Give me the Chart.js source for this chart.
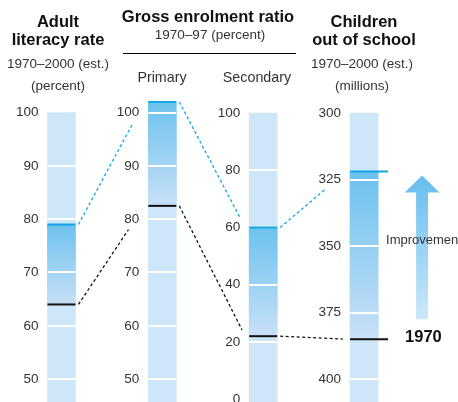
<!DOCTYPE html>
<html>
<head>
<meta charset="utf-8">
<script src="https://cdn.jsdelivr.net/npm/chart.js@4.4.1/dist/chart.umd.min.js"></script>
<style>
  html, body { margin: 0; padding: 0; background: #fff; }
  #wrap { position: relative; width: 458px; height: 402px; overflow: hidden; font-family: "Liberation Sans", Arial, sans-serif; }
  #wrap canvas { position: absolute; left: 0; top: 0; }
  .h, .h1, .s, .s1, .p { position: absolute; text-align: center; white-space: nowrap; }
  .h, .h1 { font-weight: bold; font-size: 16.5px; line-height: 18px; color: #111; }
  .s { font-size: 13.5px; line-height: 22px; color: #333; }
  .s1 { font-size: 13.5px; line-height: 16px; color: #333; }
  .p { font-size: 14.3px; line-height: 16px; color: #333; }
  .rule { position: absolute; height: 1px; background: #000; }
</style>
</head>
<body>
<div id="wrap">
  <canvas id="chart" width="458" height="402"></canvas>
  <div class="h" style="left:0;width:116px;top:12px">Adult<br>literacy rate</div>
  <div class="s" style="left:0;width:116px;top:53px">1970–2000 (est.)<br>(percent)</div>
  <div class="h1" style="left:108px;width:200px;top:7px">Gross enrolment ratio</div>
  <div class="s1" style="left:110px;width:200px;top:27px">1970–97 (percent)</div>
  <div class="rule" style="left:123px;width:173px;top:53px"></div>
  <div class="p" style="left:122px;width:80px;top:69px">Primary</div>
  <div class="p" style="left:217px;width:80px;top:69px">Secondary</div>
  <div class="h" style="left:306px;width:116px;top:12px">Children<br>out of school</div>
  <div class="s" style="left:304px;width:116px;top:53px">1970–2000 (est.)<br>(millions)</div>
</div>
<script>
// columns and their values (1970 start, latest estimate)
const columns = ["Adult literacy rate", "Primary", "Secondary", "Children out of school"];
const value1970 = [64, 82.5, 22, 385];
const valueLatest = [79, 102, 60, 322];
const columnTop = [100, 100, 100, 300];

// axis ranges, one per column
const axisMin = [45.7, 45.7, -1, 293.2];
const axisMax = [103.3, 103.3, 106.3, 408.6];
const tickStep = [10, 10, 20, 25];
const reversed = [false, false, false, true];

const baseYearLabel = "1970";
const arrowLabel = "Improvement";

const FONT = '"Liberation Sans", Arial, sans-serif';
const PALE = "#cde7f8";
const BLUE = "#14a6e4";
const labelOffset = -0.228;

const datasets = [];
columns.forEach((name, i) => {
    const only = v => columns.map((_, j) => (j === i ? v : null));
    const yId = "y" + i;
    const bottom = reversed[i] ? axisMax[i] : axisMin[i];
    datasets.push({
        label: name + " scale",
        data: only([bottom, columnTop[i]]),
        yAxisID: yId,
        backgroundColor: PALE,
        order: 2,
    });
    datasets.push({
        label: name,
        data: only([value1970[i], valueLatest[i]]),
        yAxisID: yId,
        order: 1,
        backgroundColor: ctx => {
            const chart = ctx.chart;
            const s = chart.scales[yId];
            if (!chart.chartArea || !s) return "#9fd3f2";
            const g = chart.ctx.createLinearGradient(0, s.getPixelForValue(valueLatest[i]), 0, s.getPixelForValue(value1970[i]));
            g.addColorStop(0, "#6cc2ee");
            g.addColorStop(1, "#c8e0f7");
            return g;
        },
    });
});

const scales = { x: { display: false } };
columns.forEach((_, i) => {
    scales["y" + i] = {
        type: "linear",
        axis: "y",
        position: { x: i + labelOffset },
        min: axisMin[i],
        max: axisMax[i],
        reverse: reversed[i],
        grid: { display: false },
        border: { display: false },
        ticks: {
            stepSize: tickStep[i],
            includeBounds: false,
            color: "#333",
            padding: 0,
            font: { family: FONT, size: 13.5 },
        },
        afterFit(s) {
            s.paddingTop = 0;
            s.paddingBottom = 0;
        },
    };
});

function labelBoxes(chart, k) {
    const s = chart.scales["y" + k];
    const right = chart.scales.x.getPixelForValue(k + labelOffset);
    const ctx = chart.ctx;
    ctx.font = "13.5px " + FONT;
    return s.ticks.map(t => {
        const y = s.getPixelForValue(t.value);
        const w = ctx.measureText(String(t.label)).width;
        return { l: right - w, r: right + 2, t: y - 10, b: y + 10 };
    });
}

const marks = {
    id: "marks",
    afterDatasetsDraw(chart) {
        const ctx = chart.ctx;
        const area = chart.chartArea;
        const ys = columns.map((_, i) => chart.scales["y" + i]);
        const bars = columns.map((_, i) => {
            const el = chart.getDatasetMeta(2 * i).data[i];
            return { left: el.x - el.width / 2, right: el.x + el.width / 2 };
        });
        ctx.save();

        // white grid lines across each column
        ctx.strokeStyle = "#fff";
        ctx.lineWidth = 2;
        ys.forEach((s, i) => {
            const top = Math.min(s.getPixelForValue(columnTop[i]), s.getPixelForValue(valueLatest[i]));
            s.ticks.forEach(t => {
                const y = Math.round(s.getPixelForValue(t.value));
                if (y <= top + 2 || y >= area.bottom - 4) return;
                ctx.beginPath();
                ctx.moveTo(bars[i].left, y);
                ctx.lineTo(bars[i].right, y);
                ctx.stroke();
            });
        });

        // dashed connectors between columns
        const connect = (vals, color) => {
            ctx.strokeStyle = color;
            ctx.lineWidth = 1.3;
            ctx.setLineDash([3, 2.5]);
            for (let i = 0; i < columns.length - 1; i++) {
                const x0 = bars[i].right + 3, y0 = ys[i].getPixelForValue(vals[i]);
                const x1 = bars[i + 1].left - 4, y1 = ys[i + 1].getPixelForValue(vals[i + 1]);
                const boxes = labelBoxes(chart, i + 1);
                let xe = x0, ye = y0;
                for (let t = 0; t <= 1; t += 0.004) {
                    const x = x0 + (x1 - x0) * t, y = y0 + (y1 - y0) * t;
                    if (x > bars[i + 1].left - 7) break;
                    if (boxes.some(b => x >= b.l && x <= b.r && y >= b.t && y <= b.b)) break;
                    xe = x; ye = y;
                }
                ctx.beginPath();
                ctx.moveTo(x0, y0);
                ctx.lineTo(xe, ye);
                ctx.stroke();
            }
            ctx.setLineDash([]);
        };
        connect(valueLatest, BLUE);
        connect(value1970, "#111");

        // cap lines for both years
        const cap = (vals, color) => {
            ctx.strokeStyle = color;
            ctx.lineWidth = 2;
            vals.forEach((v, i) => {
                const y = ys[i].getPixelForValue(v);
                const ext = i === columns.length - 1 ? 10 : 0;
                ctx.beginPath();
                ctx.moveTo(bars[i].left, y);
                ctx.lineTo(bars[i].right + ext, y);
                ctx.stroke();
            });
        };
        cap(valueLatest, BLUE);
        cap(value1970, "#111");

        // improvement arrow beside the last column
        const last = columns.length - 1;
        const yTip = ys[last].getPixelForValue(valueLatest[last]) + 4;
        const yBase = ys[last].getPixelForValue(value1970[last]) - 20;
        const cx = bars[last].right + 44;
        const g = ctx.createLinearGradient(0, yTip, 0, yBase);
        g.addColorStop(0, "#66bdee");
        g.addColorStop(1, "#cde8f8");
        ctx.fillStyle = g;
        ctx.beginPath();
        ctx.moveTo(cx, yTip);
        ctx.lineTo(cx + 17.5, yTip + 17);
        ctx.lineTo(cx + 6, yTip + 17);
        ctx.lineTo(cx + 6, yBase);
        ctx.lineTo(cx - 6, yBase);
        ctx.lineTo(cx - 6, yTip + 17);
        ctx.lineTo(cx - 17.5, yTip + 17);
        ctx.closePath();
        ctx.fill();

        ctx.fillStyle = "#333";
        ctx.font = "13px " + FONT;
        ctx.textAlign = "left";
        ctx.textBaseline = "middle";
        ctx.fillText(arrowLabel, bars[last].right + 8, yTip + (yBase - yTip) * 0.45);

        ctx.fillStyle = "#111";
        ctx.font = "bold 16.5px " + FONT;
        ctx.textBaseline = "alphabetic";
        ctx.fillText(baseYearLabel, bars[last].right + 27, ys[last].getPixelForValue(value1970[last]) + 3);

        ctx.restore();
    },
};

new Chart(document.getElementById("chart"), {
    type: "bar",
    data: { labels: columns, datasets: datasets },
    options: {
        responsive: false,
        animation: false,
        datasets: { bar: { grouped: false, barThickness: 28, borderWidth: 0 } },
        layout: { padding: { left: 11, right: 43.5, top: 95, bottom: 0 } },
        plugins: { legend: { display: false }, tooltip: { enabled: false } },
        scales: scales,
    },
    plugins: [marks],
});
</script>
</body>
</html>
